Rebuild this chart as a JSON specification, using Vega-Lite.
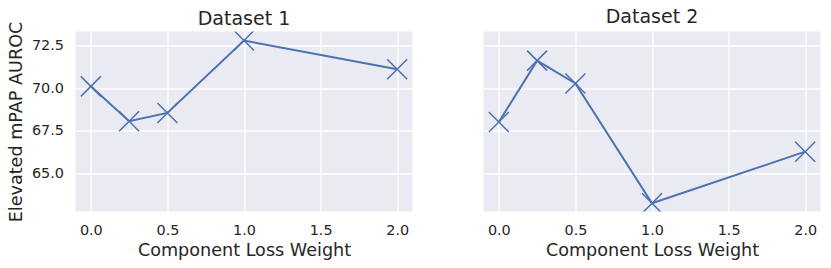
{
  "$schema": "https://vega.github.io/schema/vega-lite/v6.json",
  "autosize": {"type": "pad"},
  "padding": {"left": 6.5, "top": 7.5, "right": 0, "bottom": 0},
  "background": "white",
  "data": {"values": [
    {"dataset": "Dataset 1", "w": 0, "auroc": 70.1},
    {"dataset": "Dataset 1", "w": 0.25, "auroc": 68.07},
    {"dataset": "Dataset 1", "w": 0.5, "auroc": 68.55},
    {"dataset": "Dataset 1", "w": 1.0, "auroc": 72.77},
    {"dataset": "Dataset 1", "w": 2.0, "auroc": 71.1},
    {"dataset": "Dataset 2", "w": 0, "auroc": 68.02},
    {"dataset": "Dataset 2", "w": 0.25, "auroc": 71.6},
    {"dataset": "Dataset 2", "w": 0.5, "auroc": 70.27},
    {"dataset": "Dataset 2", "w": 1.0, "auroc": 63.28},
    {"dataset": "Dataset 2", "w": 2.0, "auroc": 66.29}
  ]},
  "bounds": "flush",
  "spacing": 71,
  "hconcat": [
    {
      "width": 337, "height": 180,
      "title": {"text": "Dataset 1", "dy": 12},
      "transform": [{"filter": "datum.dataset === 'Dataset 1'"}],
      "encoding": {
        "x": {"field": "w", "type": "quantitative", "scale": {"domain": [-0.1, 2.1], "nice": false, "zero": false},
              "axis": {"values": [0, 0.5, 1, 1.5, 2], "format": ".1f", "title": "Component Loss Weight"}},
        "y": {"field": "auroc", "type": "quantitative", "scale": {"domain": [62.8, 73.3], "nice": false, "zero": false},
              "axis": {"values": [65, 67.5, 70, 72.5], "format": ".1f", "title": "Elevated mPAP AUROC"}}
      },
      "layer": [
        {"mark": {"type": "line", "color": "#4C72B0", "strokeWidth": 2, "clip": true}},
        {"mark": {"type": "point", "shape": "M-1,-1L1,1M-1,1L1,-1", "filled": false, "color": "#4C72B0", "strokeWidth": 1.5, "size": 400, "opacity": 1, "clip": true}}
      ]
    },
    {
      "width": 337, "height": 180,
      "title": {"text": "Dataset 2"},
      "transform": [{"filter": "datum.dataset === 'Dataset 2'"}],
      "encoding": {
        "x": {"field": "w", "type": "quantitative", "scale": {"domain": [-0.1, 2.1], "nice": false, "zero": false},
              "axis": {"values": [0, 0.5, 1, 1.5, 2], "format": ".1f", "title": "Component Loss Weight"}},
        "y": {"field": "auroc", "type": "quantitative", "scale": {"domain": [62.8, 73.3], "nice": false, "zero": false},
              "axis": {"values": [65, 67.5, 70, 72.5], "labels": false, "title": null}}
      },
      "layer": [
        {"mark": {"type": "line", "color": "#4C72B0", "strokeWidth": 2, "clip": true}},
        {"mark": {"type": "point", "shape": "M-1,-1L1,1M-1,1L1,-1", "filled": false, "color": "#4C72B0", "strokeWidth": 1.5, "size": 400, "opacity": 1, "clip": true}}
      ]
    }
  ],
  "config": {
    "font": "DejaVu Sans",
    "view": {"fill": "#EAEAF2", "stroke": null},
    "title": {"font": "DejaVu Sans", "fontSize": 19, "fontWeight": "normal", "color": "#262626", "anchor": "middle", "frame": "group", "baseline": "alphabetic", "offset": 4.3},
    "axis": {
      "domain": false, "ticks": false, "grid": true, "gridColor": "#FFFFFF", "gridWidth": 1.3, "gridOpacity": 1,
      "labelFont": "DejaVu Sans", "labelFontSize": 14.4, "labelColor": "#262626", "labelFlush": false, "labelOverlap": false,
      "titleFont": "DejaVu Sans", "titleFontSize": 17.6, "titleFontWeight": "normal", "titleColor": "#262626"
    },
    "axisX": {"labelPadding": 12, "titlePadding": 5},
    "axisY": {"labelPadding": 12, "titlePadding": 6}
  }
}
